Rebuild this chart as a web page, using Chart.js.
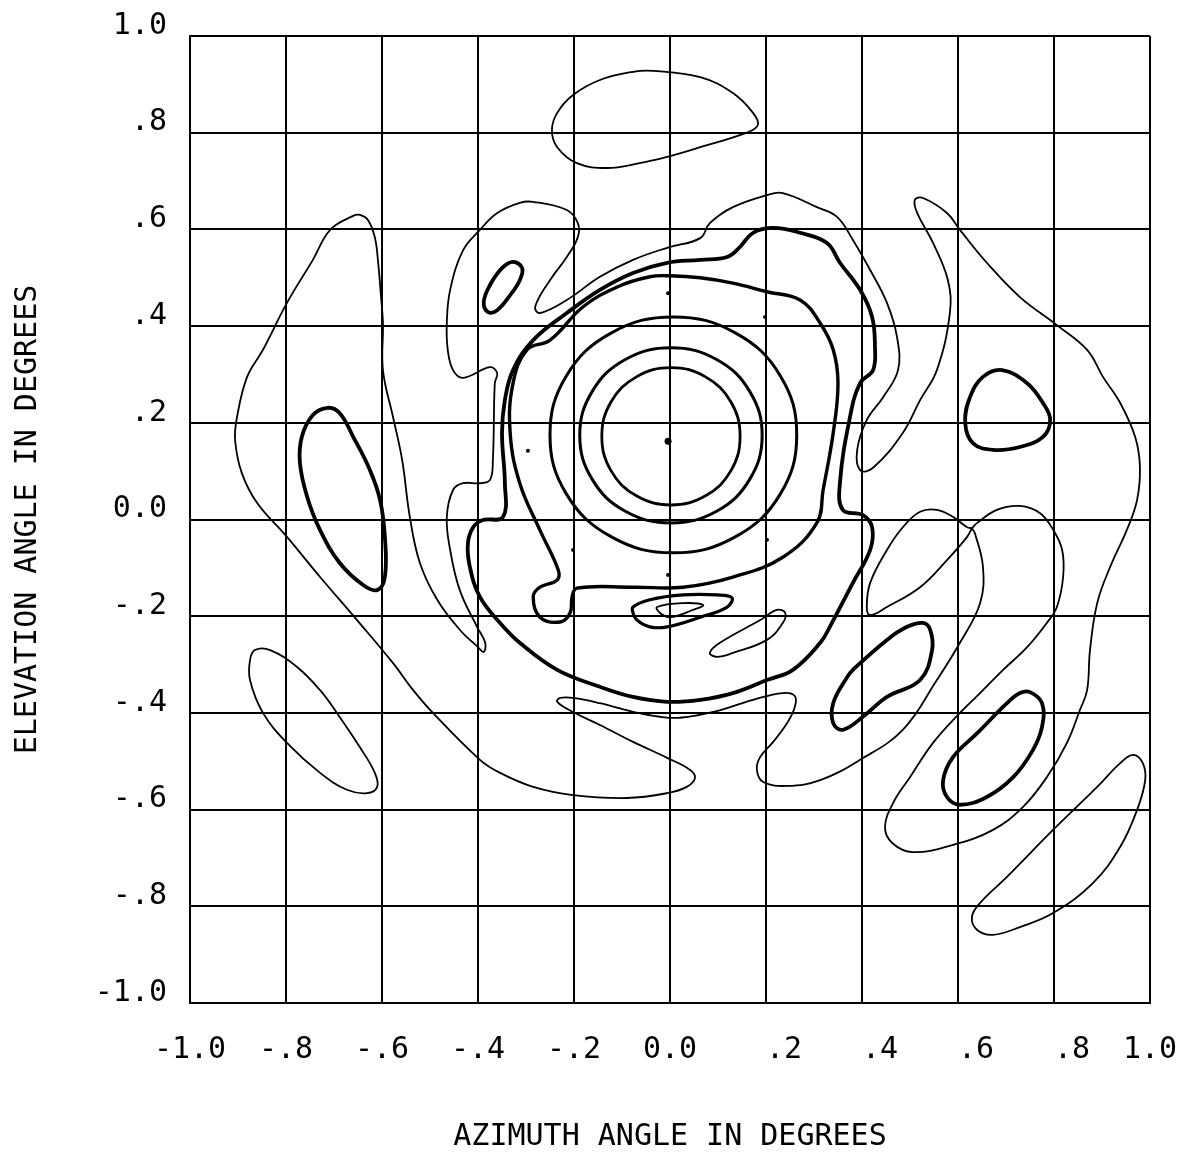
<!DOCTYPE html>
<html>
<head>
<meta charset="utf-8">
<script src="https://cdn.jsdelivr.net/npm/chart.js@4/dist/chart.umd.min.js"></script>
<style>
  body { margin: 0; background: #fff; }
  #chartDiv { width: 1199px; height: 1163px; }
</style>
</head>
<body>
<div id="chartDiv"><canvas id="Chart" width="1199" height="1163"></canvas></div>
<script>
// tick labels, from -1.0 up to 1.0
const xTickLabels = ["-1.0", "-.8", "-.6", "-.4", "-.2", "0.0", ".2", ".4", ".6", ".8", "1.0"];
const yTickLabels = ["-1.0", "-.8", "-.6", "-.4", "-.2", "0.0", ".2", ".4", ".6", ".8", "1.0"];

// contour traces, [azimuth, elevation] in degrees
// closed loops list each point once, the last joins back to the first

// top closed loop
const topLoop = [[-0.202,0.878],[-0.146,0.909],[-0.077,0.926],[-0.035,0.928],[0.063,0.915],[0.131,0.882],[0.173,0.841],[0.183,0.816],[0.160,0.800],[0.063,0.770],[-0.006,0.750],[-0.063,0.737],[-0.131,0.727],[-0.194,0.737],[-0.235,0.770],[-0.246,0.805],[-0.235,0.841]];

// big thin contour, running from the saddle at right round the whole pattern
const outerContour = [[0.629,-0.018],[0.635,-0.028],[0.652,-0.098],[0.646,-0.173],[0.604,-0.255],[0.556,-0.332],[0.485,-0.435],[0.396,-0.497],[0.313,-0.539],[0.244,-0.551],[0.194,-0.543],[0.181,-0.518],[0.188,-0.491],[0.215,-0.460],[0.244,-0.421],[0.260,-0.388],[0.260,-0.365],[0.235,-0.359],[0.173,-0.373],[0.090,-0.398],[0.021,-0.410],[-0.021,-0.408],[-0.077,-0.398],[-0.146,-0.380],[-0.202,-0.369],[-0.229,-0.369],[-0.235,-0.377],[-0.202,-0.398],[-0.146,-0.425],[-0.077,-0.460],[-0.006,-0.493],[0.042,-0.518],[0.052,-0.535],[0.035,-0.553],[-0.006,-0.566],[-0.090,-0.576],[-0.202,-0.570],[-0.285,-0.553],[-0.354,-0.524],[-0.396,-0.497],[-0.494,-0.400],[-0.535,-0.353],[-0.577,-0.297],[-0.652,-0.208],[-0.729,-0.119],[-0.798,-0.036],[-0.860,0.034],[-0.892,0.096],[-0.906,0.164],[-0.902,0.212],[-0.881,0.295],[-0.848,0.351],[-0.798,0.448],[-0.744,0.537],[-0.708,0.599],[-0.660,0.628],[-0.646,0.630],[-0.629,0.619],[-0.615,0.584],[-0.608,0.531],[-0.602,0.460],[-0.598,0.406],[-0.598,0.309],[-0.577,0.212],[-0.558,0.123],[-0.542,0.005],[-0.521,-0.090],[-0.485,-0.166],[-0.438,-0.228],[-0.400,-0.264],[-0.388,-0.274],[-0.385,-0.255],[-0.402,-0.222],[-0.438,-0.146],[-0.458,-0.063],[-0.465,0.005],[-0.452,0.061],[-0.431,0.075],[-0.396,0.075],[-0.375,0.082],[-0.369,0.123],[-0.365,0.282],[-0.360,0.303],[-0.375,0.315],[-0.431,0.293],[-0.452,0.309],[-0.463,0.351],[-0.465,0.406],[-0.458,0.475],[-0.431,0.557],[-0.396,0.599],[-0.360,0.634],[-0.313,0.655],[-0.285,0.657],[-0.215,0.640],[-0.192,0.613],[-0.192,0.584],[-0.215,0.543],[-0.250,0.495],[-0.281,0.440],[-0.271,0.427],[-0.215,0.454],[-0.146,0.502],[-0.077,0.537],[-0.006,0.562],[0.063,0.582],[0.083,0.613],[0.131,0.646],[0.202,0.671],[0.235,0.675],[0.306,0.646],[0.348,0.626],[0.381,0.578],[0.417,0.516],[0.452,0.448],[0.473,0.377],[0.475,0.309],[0.444,0.253],[0.410,0.206],[0.390,0.144],[0.396,0.102],[0.423,0.107],[0.485,0.179],[0.521,0.247],[0.556,0.309],[0.583,0.427],[0.579,0.495],[0.548,0.572],[0.515,0.634],[0.510,0.661],[0.527,0.665],[0.577,0.634],[0.604,0.599],[0.660,0.531],[0.729,0.460],[0.806,0.402],[0.869,0.351],[0.902,0.295],[0.938,0.241],[0.969,0.171],[0.979,0.109],[0.973,0.040],[0.952,-0.021],[0.917,-0.098],[0.890,-0.173],[0.875,-0.270],[0.869,-0.353],[0.854,-0.394],[0.827,-0.462],[0.785,-0.533],[0.735,-0.595],[0.673,-0.642],[0.590,-0.673],[0.506,-0.688],[0.463,-0.669],[0.448,-0.636],[0.465,-0.586],[0.500,-0.533],[0.548,-0.462],[0.604,-0.400],[0.646,-0.359],[0.694,-0.311],[0.744,-0.264],[0.785,-0.214],[0.806,-0.181],[0.819,-0.119],[0.817,-0.063],[0.798,-0.021],[0.771,0.013],[0.729,0.028],[0.681,0.020],[0.640,-0.007],[0.629,-0.018]];

// small loop on the left of the saddle
const saddleLoop = [[0.629,-0.018],[0.619,-0.016],[0.590,0.005],[0.556,0.020],[0.521,0.016],[0.485,-0.016],[0.452,-0.063],[0.417,-0.131],[0.410,-0.181],[0.417,-0.198],[0.452,-0.181],[0.521,-0.140],[0.577,-0.084],[0.619,-0.036],[0.629,-0.018]];

const lowerLeftLoop = [[-0.875,-0.291],[-0.865,-0.270],[-0.833,-0.270],[-0.777,-0.305],[-0.729,-0.353],[-0.694,-0.400],[-0.646,-0.471],[-0.615,-0.524],[-0.610,-0.553],[-0.631,-0.566],[-0.673,-0.559],[-0.729,-0.524],[-0.798,-0.462],[-0.848,-0.400],[-0.875,-0.332]];

const lowerRightLoop = [[0.965,-0.487],[0.985,-0.504],[0.990,-0.539],[0.973,-0.601],[0.938,-0.677],[0.881,-0.752],[0.798,-0.814],[0.729,-0.843],[0.673,-0.859],[0.640,-0.849],[0.629,-0.822],[0.646,-0.793],[0.702,-0.739],[0.798,-0.642],[0.890,-0.553],[0.938,-0.504]];

const dipInner = [[-0.027,-0.181],[0.027,-0.173],[0.069,-0.177],[0.048,-0.187],[0,-0.202],[-0.021,-0.193]];

const dipDiagonal = [[0.083,-0.276],[0.104,-0.255],[0.188,-0.208],[0.223,-0.187],[0.240,-0.193],[0.235,-0.214],[0.202,-0.249],[0.131,-0.276],[0.098,-0.284]];

// heavy sidelobe contours
const leftLobe = [[-0.713,0.231],[-0.688,0.220],[-0.660,0.171],[-0.625,0.102],[-0.604,0.040],[-0.594,-0.036],[-0.594,-0.119],[-0.610,-0.146],[-0.640,-0.135],[-0.688,-0.090],[-0.729,-0.022],[-0.756,0.047],[-0.771,0.117],[-0.767,0.171],[-0.744,0.216]];

const upperLeftLobe = [[-0.327,0.533],[-0.308,0.520],[-0.313,0.495],[-0.333,0.464],[-0.360,0.433],[-0.379,0.429],[-0.388,0.450],[-0.375,0.485],[-0.350,0.520]];

const rightLobe = [[0.692,0.309],[0.744,0.282],[0.777,0.241],[0.792,0.206],[0.777,0.171],[0.729,0.150],[0.673,0.144],[0.631,0.158],[0.615,0.200],[0.625,0.253],[0.652,0.295]];

const lowerLobeA = [[0.494,-0.222],[0.527,-0.214],[0.542,-0.228],[0.546,-0.270],[0.521,-0.332],[0.452,-0.367],[0.402,-0.408],[0.360,-0.435],[0.340,-0.421],[0.340,-0.380],[0.369,-0.326],[0.381,-0.311],[0.452,-0.249]];

const lowerLobeB = [[0.750,-0.357],[0.775,-0.380],[0.775,-0.429],[0.756,-0.477],[0.715,-0.533],[0.660,-0.574],[0.604,-0.590],[0.577,-0.574],[0.569,-0.539],[0.590,-0.491],[0.640,-0.442],[0.702,-0.380],[0.729,-0.359]];

const dipOuter = [[-0.077,-0.181],[-0.042,-0.166],[0.027,-0.156],[0.098,-0.156],[0.129,-0.162],[0.119,-0.181],[0.063,-0.202],[-0.006,-0.222],[-0.042,-0.222],[-0.069,-0.208],[-0.077,-0.193]];

// main beam rings, inner to outer
const ring1 = [[0.146,0.172],[0.127,0.243],[0.074,0.295],[0.002,0.314],[-0.070,0.295],[-0.123,0.243],[-0.142,0.172],[-0.123,0.101],[-0.070,0.049],[0.002,0.030],[0.074,0.049],[0.127,0.101]];
const ring2 = [[0.192,0.174],[0.166,0.265],[0.097,0.331],[0.002,0.355],[-0.093,0.331],[-0.162,0.265],[-0.188,0.174],[-0.162,0.083],[-0.093,0.017],[0.002,-0.007],[0.097,0.017],[0.166,0.083]];
const ring3 = [[0.264,0.175],[0.230,0.297],[0.136,0.386],[0.007,0.419],[-0.122,0.386],[-0.216,0.297],[-0.250,0.175],[-0.216,0.053],[-0.122,-0.036],[0.007,-0.069],[0.136,-0.036],[0.230,0.053]];
const ring4 = [[-0.298,0.351],[-0.250,0.371],[-0.181,0.440],[-0.110,0.481],[-0.042,0.502],[0,0.504],[0.063,0.500],[0.131,0.489],[0.202,0.471],[0.271,0.454],[0.313,0.406],[0.340,0.351],[0.350,0.282],[0.340,0.179],[0.319,0.061],[0.306,-0.007],[0.235,-0.078],[0.131,-0.119],[0.027,-0.140],[-0.077,-0.140],[-0.194,-0.142],[-0.204,-0.160],[-0.208,-0.193],[-0.229,-0.212],[-0.271,-0.202],[-0.285,-0.160],[-0.271,-0.140],[-0.235,-0.125],[-0.233,-0.104],[-0.271,-0.022],[-0.313,0.075],[-0.333,0.179],[-0.327,0.282]];
const ring5 = [[-0.327,0.309],[-0.285,0.371],[-0.215,0.427],[-0.146,0.475],[-0.077,0.510],[-0.006,0.531],[0.063,0.537],[0.119,0.543],[0.146,0.564],[0.173,0.593],[0.215,0.603],[0.271,0.593],[0.327,0.572],[0.354,0.531],[0.396,0.475],[0.421,0.419],[0.427,0.357],[0.423,0.309],[0.396,0.282],[0.375,0.212],[0.354,0.075],[0.360,0.020],[0.402,0.009],[0.421,-0.016],[0.417,-0.063],[0.381,-0.131],[0.333,-0.222],[0.313,-0.255],[0.256,-0.311],[0.202,-0.332],[0.131,-0.359],[0.063,-0.373],[-0.006,-0.377],[-0.077,-0.367],[-0.146,-0.346],[-0.235,-0.311],[-0.313,-0.255],[-0.354,-0.214],[-0.396,-0.160],[-0.417,-0.098],[-0.421,-0.049],[-0.410,-0.016],[-0.390,-0.001],[-0.348,0.005],[-0.344,0.075],[-0.350,0.179],[-0.344,0.247]];

// stray plotted dots, beam centre first
const dots = [[-0.004,0.162],[-0.296,0.142],[0.198,0.419],[-0.004,0.468],[0.202,-0.042],[-0.004,-0.115],[-0.202,-0.063]];

const monoFont = "'DejaVu Sans Mono', 'Liberation Mono', monospace";

const toPoints = arr => arr.map(p => ({x: p[0], y: p[1]}));

// closed loops get the neighbouring points repeated at both ends
// so the smoothed curve runs through the join without a kink;
// the two end pieces are left unstroked
const wrapLoop = arr => [arr[arr.length - 1], ...arr, arr[0], arr[1]];

const contour = function (arr, width, closed) {
    const pts = closed ? wrapLoop(arr) : arr;
    const last = pts.length - 1;
    const ds = {
        data: toPoints(pts),
        showLine: true,
        borderColor: "#000",
        borderWidth: width,
        pointRadius: 0,
        tension: 0.4,
        fill: false,
    };
    if (closed) {
        ds.segment = {
            borderColor: c => (c.p0DataIndex === 0 || c.p1DataIndex === last) ? "rgba(0,0,0,0)" : undefined,
        };
    }
    return ds;
};

const thin = 1.8;
const heavy = 3.8;

const datasets = [
    contour(topLoop, thin, true),
    contour(outerContour, thin, false),
    contour(saddleLoop, thin, false),
    contour(lowerLeftLoop, thin, true),
    contour(lowerRightLoop, thin, true),
    contour(dipInner, thin, true),
    contour(dipDiagonal, thin, true),
    contour(leftLobe, heavy, true),
    contour(upperLeftLobe, heavy, true),
    contour(rightLobe, heavy, true),
    contour(lowerLobeA, heavy, true),
    contour(lowerLobeB, heavy, true),
    contour(dipOuter, 3.2, true),
    contour(ring1, 2.8, true),
    contour(ring2, 3, true),
    contour(ring3, 3, true),
    contour(ring4, 3.4, true),
    contour(ring5, heavy, true),
    {
        data: toPoints(dots),
        showLine: false,
        pointRadius: [3.5, 2, 2, 2, 2, 2, 2],
        pointBackgroundColor: "#000",
        pointBorderWidth: 0,
    },
];

const tickIndex = v => Math.round((v + 1) * 5);

const ctx = document.getElementById("Chart");
const chart = new Chart(ctx, {
    type: "scatter",
    data: { datasets: datasets },
    options: {
        responsive: false,
        animation: false,
        devicePixelRatio: 1,
        layout: { padding: { top: 36, right: 49, left: 0, bottom: 0 } },
        plugins: {
            legend: { display: false },
            tooltip: { enabled: false },
        },
        scales: {
            x: {
                type: "linear",
                min: -1,
                max: 1,
                afterFit: scale => {
                    scale.height = 160;
                    scale.paddingLeft = 0;
                    scale.paddingRight = 0;
                },
                border: { color: "#000", width: 2 },
                grid: { color: "#000", lineWidth: 2, drawTicks: false },
                ticks: {
                    stepSize: 0.2,
                    autoSkip: false,
                    maxRotation: 0,
                    padding: 29,
                    color: "#000",
                    font: { family: monoFont, size: 30 },
                    callback: function (value) {
                        const i = tickIndex(value);
                        // the plotter pads the unsigned fractions on the left
                        return (i > 5 && i < 10 ? "  " : "") + xTickLabels[i];
                    },
                },
                title: {
                    display: true,
                    text: "AZIMUTH ANGLE IN DEGREES",
                    color: "#000",
                    font: { family: monoFont, size: 30 },
                    padding: { top: 0, bottom: 8 },
                },
            },
            y: {
                type: "linear",
                min: -1,
                max: 1,
                afterFit: scale => {
                    scale.width = 190;
                    scale.paddingTop = 0;
                    scale.paddingBottom = 0;
                },
                border: { color: "#000", width: 2 },
                grid: { color: "#000", lineWidth: 2, drawTicks: false },
                ticks: {
                    stepSize: 0.2,
                    autoSkip: false,
                    padding: 23,
                    labelOffset: -10,
                    color: "#000",
                    font: { family: monoFont, size: 30 },
                    callback: value => yTickLabels[tickIndex(value)],
                },
                title: {
                    display: true,
                    text: "ELEVATION ANGLE IN DEGREES",
                    color: "#000",
                    font: { family: monoFont, size: 30 },
                    padding: { top: 10, bottom: 0 },
                },
            },
        },
    },
});
</script>
</body>
</html>
